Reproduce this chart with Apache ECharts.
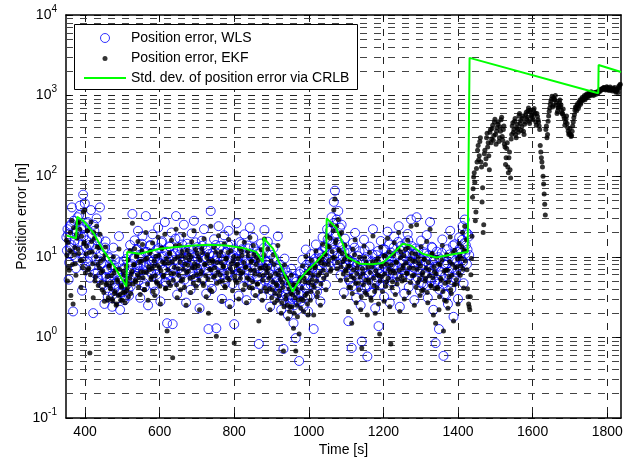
<!DOCTYPE html>
<html><head><meta charset="utf-8">
<script src="https://cdn.jsdelivr.net/npm/echarts@6/dist/echarts.min.js"></script>
<style>html,body{margin:0;padding:0;background:#fff}#c{width:631px;height:462px}</style>
</head><body><div id="c"></div>
<script>
// ---- data ----
const xTicks = [400, 600, 800, 1000, 1200, 1400, 1600, 1800];
const decades = [0.1, 1, 10, 100, 1000];
const minorMult = [2, 3, 4, 5, 6, 7, 8, 9];
const sampleStep = 3;        // s, spacing within each sample set
const startA = 350;          // s, first time of set A
const startB = 351.5;        // s, first time of set B

// WLS position error [m], set A (350..1430 s)
const wlsErrorA = [
  17.5, 22, 5.2, 13, 25, 41, 2.1, 15, 9.8, 20,
  31, 12, 43, 18, 3.8, 59, 24, 7.5, 16, 27,
  11, 5.5, 38, 14, 2.0, 21, 9.0, 30, 6.4, 17,
  41, 8.2, 4.6, 12, 2.6, 15.5, 6.8, 3.2, 10, 5.1,
  7.4, 2.4, 13, 4.1, 9.3, 3.0, 6.0, 18, 2.2, 5.5,
  3.6, 8.8, 2.9, 6.3, 4.5, 11, 3.3, 14, 7.0, 34,
  9.5, 16, 5.8, 12.5, 21, 6.6, 3.1, 10.5, 18, 7.8,
  4.2, 32, 11.5, 2.5, 8.0, 14, 6.2, 19, 9.1, 3.7,
  12, 5.4, 23, 8.5, 2.8, 15, 10, 6.9, 27, 4.8,
  1.5, 9.7, 13.5, 5.0, 20, 1.46, 7.2, 11, 32, 3.4,
  8.3, 17, 4.4, 12.2, 6.1, 25, 9.6, 2.7, 14.5, 7.7,
  10.8, 3.9, 19.5, 6.5, 28, 8.7, 4.9, 13.2, 11.8, 2.3,
  7.0, 15.8, 5.3, 22, 9.2, 3.5, 12.6, 1.27, 8.1, 37,
  4.0, 10.2, 16.5, 6.7, 1.3, 9.9, 24, 5.6, 13.7, 3.0,
  8.9, 18.5, 4.7, 11.3, 6.3, 21, 2.6, 14.1, 7.5, 10.4,
  1.46, 5.9, 26, 9.4, 3.3, 15.2, 7.1, 12.4, 4.3, 19,
  8.6, 2.9, 13.8, 6.0, 23, 10.1, 4.6, 17.2, 7.9, 3.6,
  11.6, 5.2, 0.83, 8.4, 14.6, 3.2, 6.8, 21.5, 9.0, 4.1,
  15.4, 6.2, 2.4, 10.6, 4.4, 12.8, 3.0, 7.3, 5.0, 18,
  3.8, 8.0, 2.2, 5.6, 0.72, 9.5, 3.4, 6.4, 1.9, 4.6,
  2.7, 7.1, 3.9, 1.5, 5.3, 0.98, 2.9, 4.2, 0.51, 6.6,
  3.5, 9.2, 2.4, 5.8, 12.3, 4.0, 2.1, 7.4, 3.3, 10.8,
  5.2, 1.27, 8.6, 14.2, 3.7, 6.9, 11.1, 2.8, 9.8, 17.5,
  6.2, 12.9, 4.5, 22, 9.3, 16, 7.6, 31, 11.4, 48,
  66, 19.5, 8.3, 37, 14, 5.9, 25, 10.2, 3.6, 16.8,
  7.7, 12.1, 1.59, 9.0, 4.8, 0.74, 14.9, 6.3, 19.8, 3.1,
  8.5, 5.4, 11.7, 2.5, 0.89, 7.2, 16.3, 4.1, 9.9, 0.58,
  6.0, 13.4, 3.6, 8.8, 22, 5.1, 2.3, 10.5, 7.0, 1.38,
  4.4, 15.7, 6.6, 9.6, 3.2, 12.2, 5.7, 20.5, 8.2, 2.7,
  11.3, 4.9, 7.8, 17.9, 3.9, 10.0, 6.1, 24, 2.4, 13.6,
  5.8, 9.1, 3.5, 14.8, 7.3, 19.2, 4.2, 11.0, 29, 6.7,
  8.4, 2.9, 12.7, 31, 5.5, 9.7, 3.8, 15.9, 7.0, 4.5,
  10.9, 6.3, 18.6, 3.1, 8.0, 27, 5.0, 13.0, 2.2, 7.6,
  0.85, 11.6, 4.6, 1.27, 9.3, 5.9, 16.4, 0.59, 3.4, 7.9,
  12.4, 2.6, 6.5, 21, 4.0, 9.4, 1.8, 14.3, 5.3, 8.7,
  3.0, 17.4, 6.9, 11.2, 24, 4.7, 29, 13.9, 8.1, 19,
  10.5
];
// WLS position error [m], set B (351.5..1428.5 s)
const wlsErrorB = [
  12, 19, 8.5, 24, 14, 10.5, 28, 16, 7.2, 21,
  15, 33, 11, 22, 9.5, 18, 46, 13, 26, 8.8,
  14, 7.6, 19, 10, 25, 6.2, 12.5, 16, 5.4, 9.0,
  11, 6.0, 8.3, 4.4, 13, 5.6, 7.0, 3.8, 9.6, 4.9,
  5.9, 3.4, 7.8, 4.6, 3.0, 6.4, 4.0, 8.6, 3.6, 5.2,
  4.4, 7.3, 3.2, 9.4, 5.0, 3.9, 6.7, 4.3, 8.1, 5.6,
  9.8, 6.3, 12.2, 7.4, 5.1, 10.6, 8.0, 14.5, 6.8, 4.7,
  11.4, 7.9, 5.6, 9.2, 13.6, 6.5, 8.7, 4.5, 10.9, 7.1,
  6.0, 9.5, 12.8, 5.3, 8.2, 15.6, 7.0, 10.2, 4.9, 11.7,
  8.4, 5.9, 13.3, 7.6, 10.5, 6.3, 9.1, 16.8, 5.5, 12.1,
  7.2, 10.7, 6.1, 14.2, 8.6, 5.2, 11.9, 7.8, 9.7, 13.0,
  6.6, 12.4, 8.9, 5.7, 10.1, 15.1, 7.3, 9.4, 6.2, 11.2,
  8.1, 13.7, 5.4, 9.9, 7.1, 12.0, 6.5, 10.8, 4.8, 8.5,
  11.1, 6.9, 9.0, 14.0, 5.8, 8.0, 12.6, 7.4, 10.3, 6.1,
  9.3, 5.3, 11.5, 7.7, 13.9, 6.4, 8.8, 10.0, 4.6, 12.3,
  7.0, 9.6, 5.9, 11.8, 8.3, 6.6, 14.4, 7.9, 10.4, 5.5,
  9.1, 6.8, 12.7, 5.1, 8.4, 10.9, 6.0, 13.1, 7.5, 9.8,
  5.7, 11.0, 7.2, 4.5, 9.0, 6.3, 12.9, 5.0, 8.6, 7.8,
  8.9, 4.9, 7.1, 3.8, 6.0, 9.8, 4.3, 5.6, 3.5, 7.4,
  4.7, 6.5, 3.3, 5.2, 2.9, 7.0, 4.0, 3.1, 5.8, 2.6,
  4.3, 3.0, 5.5, 2.5, 3.8, 4.9, 2.2, 3.5, 6.1, 2.8,
  5.0, 3.6, 6.8, 4.1, 7.9, 3.2, 5.9, 8.8, 4.5, 6.4,
  7.3, 5.1, 9.5, 6.2, 4.4, 10.8, 7.8, 5.6, 11.7, 8.4,
  9.9, 13.2, 7.4, 16.5, 11.0, 21, 8.6, 14.3, 26, 12.2,
  18.3, 29, 10.4, 15.1, 23, 9.2, 13.5, 7.5, 11.6, 8.3,
  6.4, 9.4, 5.2, 11.3, 7.0, 4.3, 8.5, 13.0, 5.8, 7.6,
  10.2, 4.8, 6.9, 3.9, 8.7, 5.5, 12.1, 6.3, 4.2, 9.1,
  5.9, 7.9, 3.6, 10.7, 6.6, 4.6, 8.2, 5.0, 11.8, 7.1,
  6.1, 9.3, 4.5, 12.5, 7.5, 5.3, 10.0, 6.7, 14.2, 8.0,
  9.7, 6.0, 13.1, 7.8, 10.6, 5.6, 15.3, 8.4, 11.9, 7.0,
  8.9, 12.8, 6.4, 10.3, 7.6, 16.0, 9.0, 5.9, 13.6, 11.0,
  7.3, 10.8, 5.1, 8.6, 12.0, 6.5, 9.5, 4.7, 7.9, 11.4,
  6.2, 8.8, 4.4, 10.4, 7.1, 5.4, 13.3, 6.8, 9.2, 4.9,
  7.5, 5.2, 9.9, 3.9, 6.6, 11.2, 4.6, 8.1, 5.8, 3.4,
  8.3, 6.0, 10.7, 4.8, 7.2, 13.8, 5.5, 9.0, 6.4, 11.5,
  7.7, 12.6, 9.4, 16.2, 8.6, 14.7, 10.9, 20, 12.3, 17.8
];

// EKF position error [m], set A (350..1835 s)
const ekfErrorA = [
  16, 5.0, 7.5, 12, 3.3, 28, 2.6, 10.5, 8.2, 19,
  26, 11, 22, 4.2, 9.0, 36, 15, 6.3, 13.5, 21,
  7.2, 0.64, 27, 11.5, 3.1, 17, 5.6, 24, 8.0, 13,
  19, 6.4, 3.9, 9.4, 2.8, 13.2, 4.7, 2.9, 7.6, 4.3,
  5.8, 3.0, 10, 3.5, 7.0, 2.6, 4.9, 12.5, 3.4, 4.4,
  2.9, 6.6, 3.6, 5.0, 3.8, 9.1, 4.6, 12, 6.1, 26,
  7.9, 12.6, 4.9, 10.4, 15.5, 5.5, 3.4, 8.8, 14.2, 6.5,
  3.9, 20, 9.6, 2.9, 6.9, 11.8, 5.6, 14.8, 7.7, 3.3,
  10.1, 4.7, 17.5, 7.3, 2.6, 12.9, 8.6, 5.9, 19, 4.1,
  1.2, 8.3, 11.2, 4.4, 16.1, 0.56, 6.2, 9.4, 22, 3.1,
  7.1, 13.9, 3.9, 10.3, 5.3, 18.7, 8.1, 2.5, 12.0, 6.6,
  9.2, 3.6, 15.4, 5.6, 21, 7.4, 4.3, 11.1, 9.9, 2.2,
  6.1, 12.7, 4.7, 16.8, 8.0, 3.2, 10.6, 2.0, 7.0, 24,
  3.7, 8.7, 13.1, 5.8, 1.03, 8.5, 18.2, 4.9, 11.5, 2.8,
  7.6, 14.5, 4.2, 9.6, 5.5, 16.4, 2.4, 11.9, 6.5, 8.9,
  0.85, 5.1, 19.8, 8.1, 3.0, 12.6, 6.2, 10.4, 3.9, 15.1,
  7.4, 2.7, 11.6, 5.3, 17.3, 8.7, 4.1, 13.8, 6.8, 3.3,
  9.8, 4.6, 1.6, 7.2, 12.2, 2.9, 5.9, 16.6, 7.8, 3.7,
  12.5, 5.4, 2.2, 8.9, 3.9, 10.5, 2.7, 6.2, 4.4, 13.8,
  3.3, 6.8, 2.0, 4.8, 0.68, 7.9, 3.0, 5.4, 1.7, 4.0,
  2.4, 5.9, 3.4, 1.3, 4.5, 0.68, 2.5, 3.6, 1.1, 5.5,
  3.0, 7.7, 2.1, 4.9, 10.1, 3.5, 1.9, 6.3, 2.9, 9.0,
  4.5, 1.9, 7.3, 11.8, 3.2, 5.9, 9.4, 2.5, 8.4, 14.3,
  5.4, 10.9, 3.9, 18, 8.0, 13.3, 6.6, 25, 9.7, 38,
  52, 16, 7.1, 29, 11.8, 5.1, 20, 8.7, 3.2, 13.9,
  6.6, 10.2, 2.1, 7.7, 4.2, 1.5, 12.4, 5.4, 16.3, 2.7,
  7.3, 4.7, 9.9, 2.2, 0.74, 6.2, 13.6, 3.6, 8.5, 1.9,
  5.2, 11.3, 3.1, 7.5, 18.1, 4.4, 2.0, 8.9, 6.0, 2.6,
  1.1, 13.1, 5.7, 8.2, 2.8, 10.3, 4.9, 17.0, 7.0, 2.4,
  0.83, 4.2, 6.7, 14.9, 3.4, 8.5, 5.3, 20, 2.1, 11.5,
  5.0, 7.8, 3.0, 12.4, 6.3, 16.0, 3.6, 9.4, 24, 5.8,
  7.2, 2.5, 10.8, 25, 4.8, 8.3, 3.3, 13.3, 6.0, 3.9,
  9.3, 5.4, 15.5, 2.7, 6.9, 22, 4.3, 11.0, 1.9, 6.5,
  1.5, 9.9, 4.0, 2.2, 8.0, 5.1, 13.8, 1.2, 2.9, 6.8,
  10.6, 2.3, 5.6, 17.6, 3.5, 8.1, 1.6, 12.1, 4.6, 7.5,
  2.6, 14.6, 5.9, 9.6, 20, 4.1, 24, 11.8, 6.9, 3.2,
  2.4,
  3.2, 9.5, 55, 98, 84, 36, 150, 240, 180, 300,
  130, 72, 25, 210, 165, 340, 260, 120, 380, 290,
  430, 320, 510, 250, 400, 470, 300, 360, 540, 280,
  420, 230, 170, 260, 110, 200, 95, 330, 460, 380,
  520, 300, 440, 350, 600, 490, 410, 560, 330, 470,
  620, 540, 700, 450, 660, 580, 500, 690, 610, 430,
  550, 470, 380, 200, 150, 100, 60, 33, 420, 330,
  560, 700, 850, 980, 760, 900, 1000, 820, 640, 730,
  880, 770, 600, 680, 520, 470, 560, 400, 330, 390,
  310, 360, 470, 580, 720, 650, 800, 740, 880, 820,
  950, 900, 1000, 930, 1050, 980, 1080, 1010, 1120, 1060,
  1000, 1090, 1030, 1110, 1070, 1150, 1130, 1210, 1180, 1250,
  1230, 1170, 1290, 1220, 1160, 1280, 1200, 1140, 1190, 1260,
  1100, 1180, 1090, 1240, 1380
];
// EKF position error [m], set B (351.5..1833.5 s)
const ekfErrorB = [
  10.5, 15, 6.8, 20, 11.5, 8.0, 23, 13, 5.9, 17,
  12.5, 27, 9.0, 18, 7.4, 14.5, 38, 10.8, 21, 6.9,
  11.3, 6.0, 15.5, 8.2, 20, 5.0, 10.1, 13.2, 4.4, 7.3,
  8.8, 4.8, 6.7, 3.6, 10.5, 4.5, 5.7, 3.1, 7.8, 4.0,
  4.8, 2.8, 6.3, 3.7, 2.5, 5.2, 3.3, 7.0, 2.9, 4.2,
  3.6, 5.9, 2.7, 7.6, 4.1, 3.2, 5.4, 3.5, 6.6, 4.6,
  8.0, 5.1, 10.0, 6.0, 4.2, 8.7, 6.5, 11.8, 5.5, 3.9,
  9.3, 6.4, 4.6, 7.5, 11.1, 5.3, 7.1, 3.7, 8.9, 5.8,
  4.9, 7.8, 10.4, 4.3, 6.7, 12.7, 5.7, 8.3, 4.0, 9.5,
  6.9, 4.8, 10.8, 6.2, 8.6, 5.1, 7.4, 13.7, 4.5, 9.9,
  5.9, 8.7, 5.0, 11.6, 7.0, 4.2, 9.7, 6.4, 7.9, 10.6,
  5.4, 10.1, 7.3, 4.7, 8.2, 12.3, 6.0, 7.7, 5.1, 9.1,
  6.6, 11.2, 4.4, 8.1, 5.8, 9.8, 5.3, 8.8, 3.9, 6.9,
  9.0, 5.6, 7.3, 11.4, 4.7, 6.5, 10.3, 6.0, 8.4, 5.0,
  7.6, 4.3, 9.4, 6.3, 11.3, 5.2, 7.2, 8.2, 3.8, 10.0,
  5.7, 7.8, 4.8, 9.6, 6.8, 5.4, 11.7, 6.4, 8.5, 4.5,
  7.4, 5.5, 10.3, 4.2, 6.8, 8.9, 4.9, 10.7, 6.1, 8.0,
  4.6, 9.0, 5.9, 3.7, 7.3, 5.1, 10.5, 4.1, 7.0, 6.4,
  7.2, 4.0, 5.8, 3.1, 4.9, 8.0, 3.5, 4.6, 2.9, 6.0,
  3.8, 5.3, 2.7, 4.2, 2.4, 5.7, 3.3, 2.5, 4.7, 2.1,
  3.5, 2.4, 4.5, 2.0, 3.1, 4.0, 1.8, 2.9, 5.0, 2.3,
  4.1, 2.9, 5.5, 3.3, 6.4, 2.6, 4.8, 7.2, 3.7, 5.2,
  5.9, 4.2, 7.7, 5.0, 3.6, 8.8, 6.3, 4.6, 9.5, 6.8,
  8.1, 10.7, 6.0, 13.4, 9.0, 17, 7.0, 11.6, 21, 9.9,
  14.9, 24, 8.5, 12.3, 19, 7.5, 11.0, 6.1, 9.4, 6.8,
  5.2, 7.6, 4.2, 9.2, 5.7, 3.5, 6.9, 10.6, 4.7, 6.2,
  8.3, 3.9, 5.6, 3.2, 7.1, 4.5, 9.8, 5.1, 3.4, 7.4,
  4.8, 6.4, 2.9, 8.7, 5.4, 3.7, 6.7, 4.1, 9.6, 5.8,
  5.0, 7.6, 3.7, 10.2, 6.1, 4.3, 8.1, 5.4, 11.5, 6.5,
  7.9, 4.9, 10.7, 6.3, 8.6, 4.6, 12.4, 6.8, 9.7, 5.7,
  7.2, 10.4, 5.2, 8.4, 6.2, 13.0, 7.3, 4.8, 11.1, 8.9,
  5.9, 8.8, 4.2, 7.0, 9.8, 5.3, 7.7, 3.8, 6.4, 9.3,
  5.0, 7.2, 3.6, 8.5, 5.8, 4.4, 10.8, 5.5, 7.5, 4.0,
  6.1, 4.2, 8.1, 3.2, 5.4, 9.1, 3.7, 6.6, 4.7, 2.8,
  6.8, 4.9, 8.7, 3.9, 5.9, 11.2, 4.5, 7.3, 5.2, 9.4,
  6.3, 10.3, 7.7, 13.2, 7.0, 12.0, 8.9, 16.3, 4.0, 2.6,
  2.2, 6.0, 18, 70, 110, 28, 125, 210, 160, 270,
  150, 48, 20, 190, 140, 300, 230, 180, 350, 260,
  390, 280, 470, 330, 360, 440, 270, 410, 500, 310,
  380, 250, 140, 220, 130, 170, 120, 290, 420, 350,
  480, 330, 400, 380, 560, 450, 370, 520, 360, 440,
  580, 510, 650, 480, 630, 560, 530, 660, 590, 470,
  600, 500, 420, 240, 170, 130, 80, 45, 380, 300,
  480, 640, 780, 900, 720, 950, 880, 760, 600, 700,
  820, 730, 650, 600, 560, 430, 510, 450, 360, 340,
  330, 320, 420, 530, 660, 700, 760, 690, 840, 780,
  900, 870, 960, 890, 1000, 950, 1040, 990, 1090, 1030,
  1040, 1060, 1080, 1090, 1100, 1120, 1160, 1180, 1200, 1220,
  1260, 1200, 1250, 1190, 1210, 1240, 1180, 1170, 1230, 1210,
  1150, 1130, 1200, 1300, 1340
];

// CRLB standard deviation of position error [m]
const crlbTime = [351, 376, 379, 395, 422, 449, 476, 511, 513, 547, 600, 645, 690, 734, 779, 823, 859, 877, 879, 904, 930, 957, 975, 993, 1020, 1047, 1048, 1073, 1091, 1102, 1136, 1171, 1198, 1225, 1252, 1274, 1305, 1341, 1394, 1426, 1430, 1431, 1776, 1777, 1837];
const crlbStd  = [18.3, 17.0, 31.3, 28, 20, 12, 7.9, 4.27, 11.5, 10.9, 12.6, 13.2, 13.8, 14.1, 13.8, 12.9, 11.5, 8.6, 17.1, 12.6, 6.8, 3.7, 5.2, 6.5, 8.6, 11.8, 30, 23, 14.5, 10, 8.2, 8.1, 8.4, 10.9, 14.5, 13.8, 10.9, 9.8, 10.9, 11.5, 12, 2940, 1067, 2392, 1960];

// ---- chart ----
const FONT = '"Liberation Sans", Arial, Helvetica, sans-serif';
const xMin = 349, xMax = 1837;
const toPairs = (arr, start) => arr.map((v, i) => [start + i * sampleStep, v]);
const minorGrid = [];
decades.forEach(d => minorMult.forEach(m => minorGrid.push(+(m * d).toPrecision(3))));

const gridDash = [7, 7];
const chart = echarts.init(document.getElementById('c'), null, {renderer: 'canvas'});
const expLabel = v => '{b|10}{s|' + Math.round(Math.log10(v)) + '}';
const legendCommon = {
  itemWidth: 42, itemGap: 0, padding: 0, z: 6,
  selectedMode: false,
  textStyle: {fontFamily: FONT, fontSize: 14, color: '#000', lineHeight: 14}
};

chart.setOption({
  animation: false,
  backgroundColor: '#fff',
  textStyle: {fontFamily: FONT},
  grid: {left: 66, right: 10, top: 15, bottom: 39, containLabel: false},
  xAxis: [{
    type: 'value', min: xMin, max: xMax, position: 'bottom',
    name: 'Time [s]', nameLocation: 'middle', nameGap: 25, nameMoveOverlap: false,
    nameTextStyle: {fontFamily: FONT, fontSize: 14, color: '#000'},
    axisLine: {show: true, onZero: false, lineStyle: {color: '#000', width: 1.5}},
    axisTick: {show: true, inside: true, length: 5, customValues: xTicks, lineStyle: {color: '#000'}},
    axisLabel: {show: true, margin: 7, customValues: xTicks, formatter: v => String(v),
      fontFamily: FONT, fontSize: 14, color: '#000'},
    splitLine: {show: true, lineStyle: {color: '#222', type: gridDash, width: 1}}
  }, {
    type: 'value', min: xMin, max: xMax, position: 'top',
    axisLine: {show: true, onZero: false, lineStyle: {color: '#000', width: 1.5}},
    axisTick: {show: true, inside: true, length: 5, customValues: xTicks, lineStyle: {color: '#000'}},
    axisLabel: {show: false},
    splitLine: {show: false}
  }],
  yAxis: [{
    type: 'log', logBase: 10, min: 0.1, max: 10000, position: 'left',
    name: 'Position error [m]', nameLocation: 'middle', nameGap: 37, nameMoveOverlap: false,
    nameTextStyle: {fontFamily: FONT, fontSize: 14, color: '#000'},
    axisLine: {show: true, onZero: false, lineStyle: {color: '#000', width: 1.5}},
    axisTick: {show: true, inside: true, length: 5, lineStyle: {color: '#000'}},
    axisLabel: {
      show: true, margin: 9, formatter: expLabel,
      rich: {
        b: {fontFamily: FONT, fontSize: 14, color: '#000', lineHeight: 22},
        s: {fontFamily: FONT, fontSize: 10, color: '#000', lineHeight: 10, verticalAlign: 'top'}
      }
    },
    splitLine: {show: true, lineStyle: {color: '#222', type: gridDash, width: 1}}
  }, {
    type: 'log', logBase: 10, min: 0.1, max: 10000, position: 'right',
    axisLine: {show: true, onZero: false, lineStyle: {color: '#000', width: 1.5}},
    axisTick: {show: true, inside: true, length: 5, lineStyle: {color: '#000'}},
    axisLabel: {show: false},
    splitLine: {show: false}
  }],
  legend: [
    Object.assign({}, legendCommon, {left: 100, top: 31, itemHeight: 9, data: [{
      name: 'Position error, WLS', icon: 'circle',
      itemStyle: {color: 'rgba(0,0,0,0)', borderColor: '#0000ff', borderWidth: 1}}]}),
    Object.assign({}, legendCommon, {left: 102.5, top: 51.5, itemHeight: 5, data: [{
      name: 'Position error, EKF', icon: 'circle', itemStyle: {color: '#000'}}]}),
    Object.assign({}, legendCommon, {left: 84, top: 71, itemHeight: 2, data: [{
      name: 'Std. dev. of position error via CRLB', icon: 'rect', itemStyle: {color: '#00ff00'}}]})
  ],
  graphic: [{
    type: 'rect', z: 5, silent: true,
    shape: {x: 74.5, y: 24.5, width: 283, height: 65},
    style: {fill: '#fff', stroke: '#000', lineWidth: 1}
  }],
  series: [{
    name: 'Position error, WLS', type: 'scatter', z: 2,
    xAxisIndex: 0, yAxisIndex: 0,
    symbol: 'circle', symbolSize: 9,
    itemStyle: {color: 'rgba(0,0,0,0)', borderColor: '#0000ff', borderWidth: 1},
    data: toPairs(wlsErrorA, startA).concat(toPairs(wlsErrorB, startB)),
    markLine: {
      silent: true, z: 1, symbol: ['none', 'none'], label: {show: false},
      lineStyle: {color: '#444', type: gridDash, width: 1},
      emphasis: {disabled: true},
      data: minorGrid.map(v => ({yAxis: v}))
    }
  }, {
    name: 'Position error, EKF', type: 'scatter', z: 3,
    symbol: 'circle', symbolSize: 5,
    itemStyle: {color: '#000'},
    data: toPairs(ekfErrorA, startA).concat(toPairs(ekfErrorB, startB))
  }, {
    name: 'Std. dev. of position error via CRLB', type: 'line', z: 4,
    symbol: 'none', showSymbol: false,
    lineStyle: {color: '#00ff00', width: 2},
    itemStyle: {color: '#00ff00'},
    data: crlbTime.map((t, i) => [t, crlbStd[i]])
  }]
});
</script></body></html>
